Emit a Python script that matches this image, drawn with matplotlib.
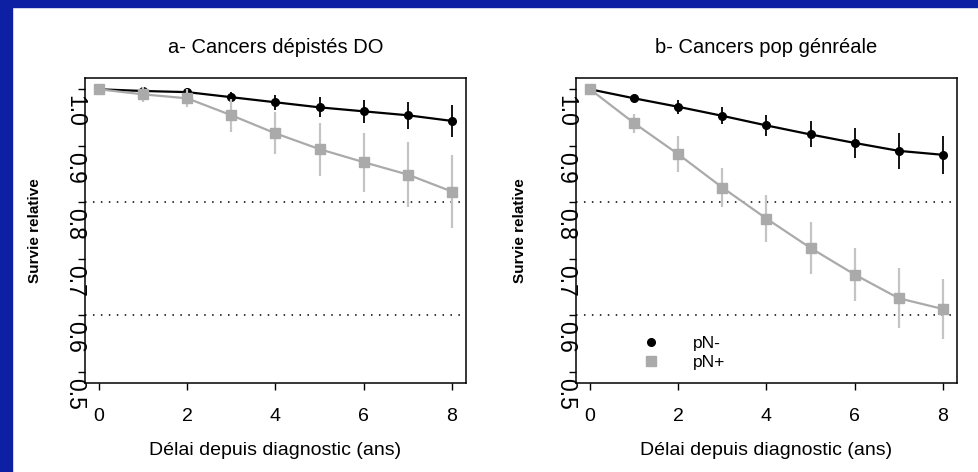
import numpy as np
import matplotlib.pyplot as plt
from matplotlib import transforms
from matplotlib.patches import Rectangle

plt.rcParams['font.family'] = ['Liberation Sans', 'DejaVu Sans']

years = [0, 1, 2, 3, 4, 5, 6, 7, 8]
yticks = [0.5, 0.6, 0.7, 0.8, 0.9, 1.0]
ytick_labels = ["0.5", "0.6", "0.7", "0.8", "0.9", "1.0"]
xticks = [0, 2, 4, 6, 8]
ref_lines = [0.8, 0.6]

# a- cancers depistes DO
a_neg = [1.0, 0.997, 0.995, 0.986, 0.977, 0.968, 0.961, 0.954, 0.944]
a_neg_err = [0, 0.002, 0.003, 0.009, 0.013, 0.0175, 0.020, 0.024, 0.029]
a_pos = [1.0, 0.991, 0.984, 0.954, 0.922, 0.894, 0.871, 0.849, 0.819]
a_pos_err = [0, 0.013, 0.016, 0.029, 0.037, 0.047, 0.052, 0.057, 0.065]

# b- cancers population generale
b_neg = [1.0, 0.984, 0.969, 0.953, 0.936, 0.920, 0.905, 0.891, 0.884]
b_neg_err = [0, 0.005, 0.012, 0.015, 0.019, 0.023, 0.027, 0.032, 0.034]
b_pos = [1.0, 0.940, 0.885, 0.826, 0.771, 0.719, 0.672, 0.630, 0.611]
b_pos_err = [0, 0.017, 0.032, 0.034, 0.041, 0.046, 0.047, 0.053, 0.053]

panels = [
    ("a- Cancers dépistés DO", a_neg, a_neg_err, a_pos, a_pos_err),
    ("b- Cancers pop génréale", b_neg, b_neg_err, b_pos, b_pos_err),
]

W, H = 979, 472
fig = plt.figure(figsize=(W / 100, H / 100), dpi=100)
fig.patch.set_facecolor("white")

# blue frame (left and top)
blue = "#0d1fa3"
fig.patches.append(Rectangle((0, 0), 12 / W, 1, transform=fig.transFigure,
                             color=blue, zorder=0))
fig.patches.append(Rectangle((0, 1 - 7 / H), 1, 7 / H, transform=fig.transFigure,
                             color=blue, zorder=0))

lefts = [85 / W, 576 / W]
width = 381 / W
bottom = 1 - 383 / H
height = 305 / H
ylab_x = [-0.113, -0.129]

black = "black"
grey_line = "#aaaaaa"
grey_bar = "#c4c4c4"

for i, (title, neg, neg_err, pos, pos_err) in enumerate(panels):
    ax = fig.add_axes([lefts[i], bottom, width, height])

    ax.errorbar(years, neg, yerr=neg_err, fmt="none", ecolor=black,
                elinewidth=1.3, capsize=0, zorder=2)
    ax.plot(years, neg, color=black, lw=1.6, marker="o", ms=5.5,
            label="pN-", zorder=3)
    ax.errorbar(years, pos, yerr=pos_err, fmt="none", ecolor=grey_bar,
                elinewidth=1.6, capsize=0, zorder=4)
    ax.plot(years, pos, color=grey_line, lw=1.6, marker="s", ms=6.5,
            label="pN+", zorder=5)

    for v in ref_lines:
        ax.axhline(v, color="black", lw=1.1, linestyle=(0, (1, 4.2)), zorder=1)

    ax.set_xlim(-0.32, 8.32)
    ax.set_ylim(0.48, 1.02)
    ax.set_xticks(xticks)
    ax.set_yticks(yticks)
    ax.set_yticklabels([])
    ax.tick_params(axis="both", direction="out", length=5, width=1.0,
                   labelsize=14)
    ax.tick_params(axis="x", pad=13)
    for s in ax.spines.values():
        s.set_linewidth(1.1)

    # y tick labels, turned clockwise and set just below each tick
    off = transforms.ScaledTranslation(-10.5 / 100, -6 / 100, fig.dpi_scale_trans)
    tr = transforms.blended_transform_factory(ax.transAxes, ax.transData) + off
    for v, lab in zip(yticks, ytick_labels):
        ax.text(0, v, lab, transform=tr, rotation=-90, ha="center", va="top",
                fontsize=16.5, clip_on=False)

    ax.set_title(title, fontsize=14.5, pad=18)
    ax.set_xlabel("Délai depuis diagnostic (ans)", fontsize=14, labelpad=12.5)
    ax.set_ylabel("Survie relative", fontsize=11, fontweight="bold")
    ax.yaxis.set_label_coords(ylab_x[i], 0.5)

    if i == 1:
        ax.legend(loc="upper left", bbox_to_anchor=(0.197, 0.154),
                  frameon=False, handlelength=0, handletextpad=2.4,
                  borderpad=0, borderaxespad=0, labelspacing=0.2,
                  fontsize=12.5, numpoints=1)

fig.savefig("out.png", dpi=100)
